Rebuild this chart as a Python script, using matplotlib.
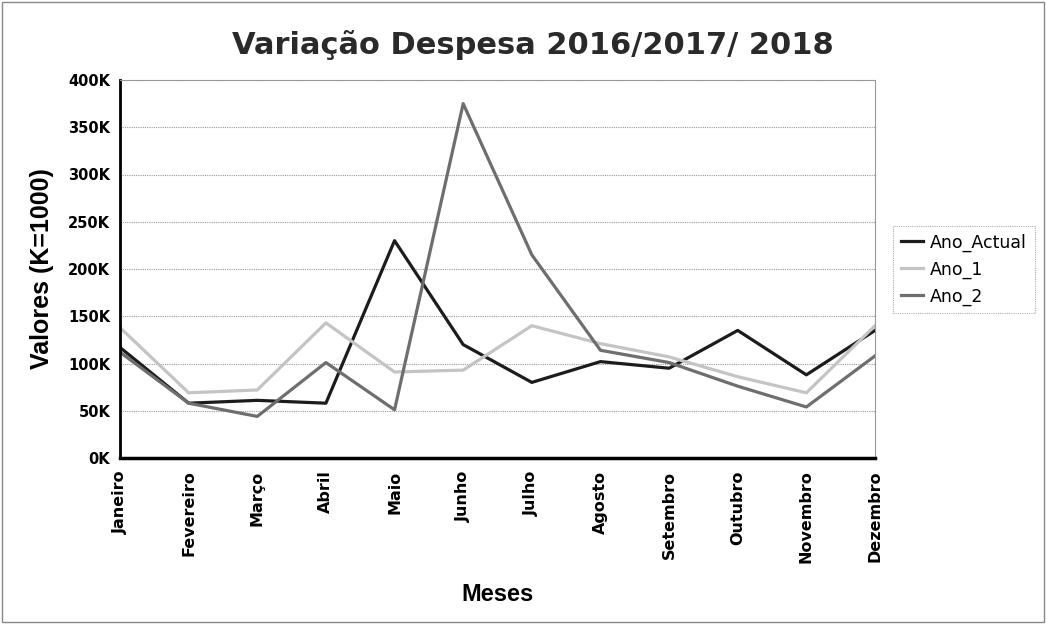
import matplotlib
matplotlib.use("Agg")
import matplotlib.pyplot as plt
import numpy as np

meses = ["Janeiro", "Fevereiro", "Março", "Abril", "Maio", "Junho", "Julho",
         "Agosto", "Setembro", "Outubro", "Novembro", "Dezembro"]

# valores em K (x1000)
ano_actual = [117, 58, 61, 58, 230, 120, 80, 102, 95, 135, 88, 135]
ano_1 = [138, 69, 72, 143, 91, 93, 140, 121, 107, 86, 69, 140]
ano_2 = [112, 58, 44, 101, 51, 375, 215, 114, 101, 76, 54, 108]

series = [
    ("Ano_Actual", ano_actual, "#1c1c1c"),
    ("Ano_1", ano_1, "#c4c4c4"),
    ("Ano_2", ano_2, "#6e6e6e"),
]

fig = plt.figure(figsize=(10.46, 6.24), dpi=100)
ax = fig.add_axes([120 / 1046, 1 - 458 / 624, 755 / 1046, 378 / 624])

x = np.arange(len(meses))
for name, vals, color in series:
    ax.plot(x, vals, color=color, lw=2.3, label=name)

ax.set_xlim(0, len(meses) - 1)
ax.set_ylim(0, 400)
ax.set_yticks(np.arange(0, 401, 50))
ax.set_yticklabels([f"{v}K" for v in range(0, 401, 50)], fontsize=10.5, fontweight="bold")
ax.set_xticks(x)
ax.set_xticklabels(meses, rotation=90, fontsize=11.5, fontweight="bold")
ax.tick_params(axis="y", length=0, pad=7)
ax.tick_params(axis="x", length=0, pad=9)

ax.grid(axis="y", color="#999999", lw=0.8, ls=(0, (1, 1)))
ax.set_axisbelow(True)
for s in ["top", "right"]:
    ax.spines[s].set_color("#999999")
    ax.spines[s].set_linestyle((0, (1, 1)))
    ax.spines[s].set_linewidth(0.8)
ax.spines["left"].set_linewidth(2)
ax.spines["bottom"].set_linewidth(2.5)

ax.set_xlabel("Meses", fontsize=17, fontweight="bold", family="Liberation Sans", labelpad=14)
ax.set_ylabel("Valores (K=1000)", fontsize=18, fontweight="bold",
              family="Liberation Sans", labelpad=10)
fig.text(0.509, 1 - 45 / 624, "Variação Despesa 2016/2017/ 2018",
         ha="center", va="center", fontsize=22, fontweight="bold", color="#2a2a2a")

leg = ax.legend(loc="upper left", bbox_to_anchor=(1.0238, 0.615), fontsize=12.5,
                frameon=True, fancybox=False, handlelength=1.3, handletextpad=0.4,
                borderpad=0.45, labelspacing=0.5, borderaxespad=0)
leg.get_frame().set_edgecolor("#999999")
leg.get_frame().set_linewidth(0.8)
leg.get_frame().set_linestyle((0, (1, 1)))

# moldura da figura
fig.patches.append(plt.Rectangle((0.002, 0.003), 0.996, 0.994, transform=fig.transFigure,
                                 fill=False, edgecolor="#888888", lw=1))

fig.savefig("out.png", dpi=100)
